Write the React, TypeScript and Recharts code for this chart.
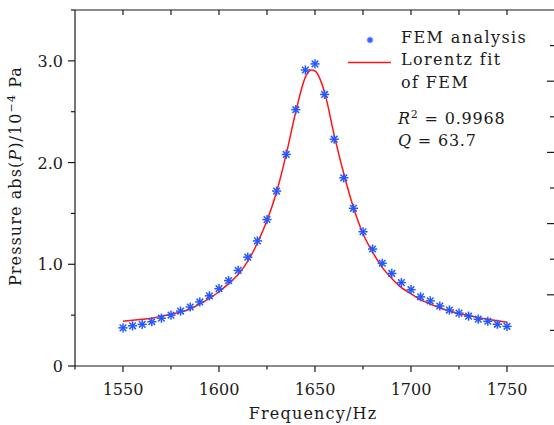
import React from "react";
import { ComposedChart, XAxis, YAxis, Line, Scatter } from "recharts";

const freqs = [1550,1555,1560,1565,1570,1575,1580,1585,1590,1595,1600,1605,1610,1615,1620,1625,1630,1635,1640,1645,1650,1655,1660,1665,1670,1675,1680,1685,1690,1695,1700,1705,1710,1715,1720,1725,1730,1735,1740,1745,1750];
const femValues = [0.375,0.395,0.41,0.435,0.47,0.50,0.54,0.58,0.63,0.69,0.76,0.84,0.94,1.07,1.23,1.44,1.72,2.08,2.52,2.91,2.97,2.67,2.23,1.85,1.55,1.32,1.15,1.01,0.91,0.82,0.75,0.68,0.64,0.59,0.55,0.52,0.49,0.46,0.44,0.41,0.39];

const fitFreqs = [1550,1555,1560,1565,1570,1575,1580,1585,1590,1595,1600,1605,1610,1615,1620,1625,1630,1635,1640,1645,1648,1650,1655,1660,1665,1670,1675,1680,1685,1690,1695,1700,1705,1710,1715,1720,1725,1730,1735,1740,1745,1750];
const fitValues = [0.44,0.45,0.46,0.47,0.49,0.51,0.53,0.56,0.61,0.665,0.73,0.81,0.90,1.03,1.21,1.43,1.71,2.08,2.50,2.84,2.91,2.90,2.69,2.27,1.89,1.56,1.30,1.12,0.97,0.86,0.77,0.71,0.65,0.61,0.57,0.54,0.515,0.495,0.475,0.46,0.445,0.43];

const xTicks = [1525,1550,1575,1600,1625,1650,1675,1700,1725,1750,1775];
const yTicks = [0,0.5,1,1.5,2,2.5,3,3.5];
const yTickLabels: Record<string,string> = { "0": "0", "1": "1.0", "2": "2.0", "3": "3.0" };
const rightTicks = [1,2,3,4,5,6,7,8,9];

const femData = freqs.map((f, i) => ({ f, p: femValues[i] }));
const fitData = fitFreqs.map((f, i) => ({ f, fit: fitValues[i] }));

const FONT = "'DejaVu Serif', serif";
const INK = "#1a1a1a";
const BLUE = "#2458ff";
const RED = "#ff1414";

const Star = (props: any) => {
  const { cx, cy } = props;
  const r = 4.6;
  const d = r * 0.72;
  return (
    <g stroke={BLUE} strokeWidth={1.5}>
      <line x1={cx - r} y1={cy} x2={cx + r} y2={cy} />
      <line x1={cx} y1={cy - r} x2={cx} y2={cy + r} />
      <line x1={cx - d} y1={cy - d} x2={cx + d} y2={cy + d} />
      <line x1={cx - d} y1={cy + d} x2={cx + d} y2={cy - d} />
    </g>
  );
};

const Nothing = () => <g />;

const BottomTick = (props: any) => {
  const { x, y, payload } = props;
  const v = payload.value;
  const major = v % 50 === 0;
  return (
    <g>
      <line x1={x} y1={y} x2={x} y2={y + (major ? 6 : 3.5)} stroke={INK} strokeWidth={1.2} />
      {major && (
        <text x={x} y={y + 29} textAnchor="middle" fontFamily={FONT} fontSize={16} fill={INK}>
          {v}
        </text>
      )}
    </g>
  );
};

const TopTick = (props: any) => {
  const { x, y } = props;
  return <line x1={x} y1={y} x2={x} y2={y + 5} stroke={INK} strokeWidth={1.2} />;
};

const LeftTick = (props: any) => {
  const { x, y, payload } = props;
  const v = payload.value;
  const label = yTickLabels[String(v)];
  const major = label !== undefined;
  return (
    <g>
      <line x1={x} y1={y} x2={x - (major ? 7 : 4)} y2={y} stroke={INK} strokeWidth={1.2} />
      {major && (
        <text x={x - 12} y={y + 6} textAnchor="end" fontFamily={FONT} fontSize={16} fill={INK}>
          {label}
        </text>
      )}
    </g>
  );
};

const RightTick = (props: any) => {
  const { x, y, payload } = props;
  const long = payload.value % 2 === 0;
  return <line x1={x - 1} y1={y} x2={x - 1 - (long ? 7 : 4)} y2={y} stroke={INK} strokeWidth={1.2} />;
};

export default function App() {
  return (
    <div style={{ position: "absolute", left: 0, top: 0, width: 554, height: 425, overflow: "hidden", background: "#fff" }}>
      <ComposedChart
        width={600}
        height={425}
        margin={{ top: 9, right: 44, left: 15, bottom: 19 }}
      >
        <XAxis
          dataKey="f"
          type="number"
          domain={[1525, 1775]}
          ticks={xTicks}
          interval={0}
          tickSize={0}
          tickMargin={0}
          height={40}
          axisLine={{ stroke: INK, strokeWidth: 1.2 }}
          tickLine={false}
          tick={<BottomTick />}
          allowDataOverflow
        />
        <XAxis
          xAxisId="t"
          orientation="top"
          dataKey="f"
          type="number"
          domain={[1525, 1775]}
          ticks={xTicks.slice(1)}
          interval={0}
          tickSize={0}
          tickMargin={0}
          height={1}
          axisLine={{ stroke: INK, strokeWidth: 1.2 }}
          tickLine={false}
          tick={<TopTick />}
          allowDataOverflow
        />
        <YAxis
          type="number"
          domain={[0, 3.5]}
          ticks={yTicks}
          interval={0}
          tickSize={0}
          tickMargin={0}
          width={60}
          axisLine={{ stroke: INK, strokeWidth: 1.2 }}
          tickLine={false}
          tick={<LeftTick />}
          allowDataOverflow
        />
        <YAxis
          yAxisId="r"
          orientation="right"
          type="number"
          domain={[0, 10]}
          ticks={rightTicks}
          interval={0}
          tickSize={0}
          tickMargin={0}
          width={1}
          axisLine={{ stroke: INK, strokeWidth: 1.2 }}
          tickLine={false}
          tick={<RightTick />}
          allowDataOverflow
        />
        <Scatter
          data={femData}
          dataKey="p"
          xAxisId="t"
          yAxisId="r"
          shape={<Nothing />}
          legendType="none"
          isAnimationActive={false}
        />
        <Line
          data={fitData}
          dataKey="fit"
          type="monotone"
          stroke={RED}
          strokeWidth={1.5}
          dot={false}
          activeDot={false}
          isAnimationActive={false}
        />
        <Scatter
          data={femData}
          dataKey="p"
          shape={<Star />}
          isAnimationActive={false}
        />
      </ComposedChart>
      <svg
        width={554}
        height={425}
        style={{ position: "absolute", left: 0, top: 0, pointerEvents: "none" }}
      >
        <g fontFamily={FONT} fontSize={16} fill={INK}>
          <text x={313} y={419} textAnchor="middle" letterSpacing={1.2}>Frequency/Hz</text>
          <text
            transform="translate(21,176) rotate(-90)"
            textAnchor="middle"
            letterSpacing={1.1}
          >
            Pressure abs(<tspan fontStyle="italic">P</tspan>)/10
            <tspan dy={-6} fontSize={11}>−4</tspan>
            <tspan dy={6}> Pa</tspan>
          </text>
          <g>
            {(() => {
              const cx = 370, cy = 40, r = 3.2, d = r * 0.72;
              return (
                <g stroke={BLUE} strokeWidth={1.3}>
                  <line x1={cx - r} y1={cy} x2={cx + r} y2={cy} />
                  <line x1={cx} y1={cy - r} x2={cx} y2={cy + r} />
                  <line x1={cx - d} y1={cy - d} x2={cx + d} y2={cy + d} />
                  <line x1={cx - d} y1={cy + d} x2={cx + d} y2={cy - d} />
                </g>
              );
            })()}
            <line x1={348} y1={62.5} x2={391} y2={62.5} stroke={RED} strokeWidth={1.5} />
          </g>
          <text x={401} y={43} letterSpacing={1.4}>FEM analysis</text>
          <text x={401} y={65} letterSpacing={1.4}>Lorentz fit</text>
          <text x={401} y={87.5} letterSpacing={1.4}>of FEM</text>
          <text x={398} y={124} letterSpacing={0.8}>
            <tspan fontStyle="italic">R</tspan>
            <tspan dy={-6} fontSize={11}>2</tspan>
            <tspan dy={6}> = 0.9968</tspan>
          </text>
          <text x={398} y={146} letterSpacing={0.8}>
            <tspan fontStyle="italic">Q</tspan> = 63.7
          </text>
        </g>
      </svg>
    </div>
  );
}
